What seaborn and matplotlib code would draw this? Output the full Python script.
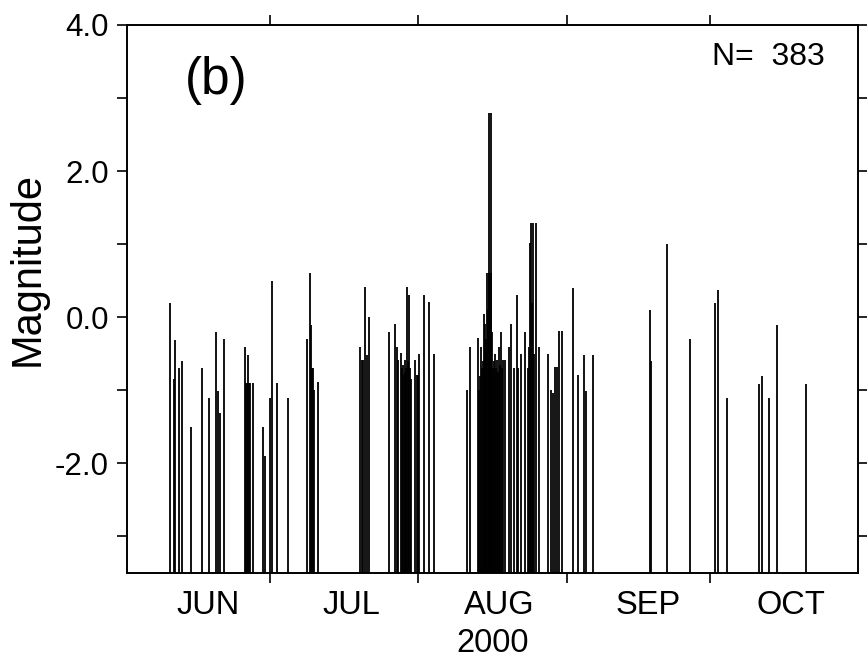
import numpy as np
import pandas as pd
import matplotlib
matplotlib.use("Agg")
import matplotlib.pyplot as plt
import matplotlib.dates as mdates
from matplotlib.ticker import FixedLocator, NullFormatter, FixedFormatter
import seaborn as sns

# ---- data: event time (days after 2000-06-01 00:00) and magnitude ----
days_jun = [9.00, 9.90, 10.05, 10.95, 11.51, 13.33, 15.76, 17.10, 18.63, 19.11,
            19.40, 20.36, 24.70, 24.91, 25.12, 25.32, 25.53, 25.74, 26.43, 28.40,
            28.95, 29.93, 30.35, 31.46, 33.63]
mags_jun = [0.20, -0.85, -0.31, -0.70, -0.60, -1.50, -0.70, -1.10, -0.20, -1.01,
            -1.31, -0.30, -0.41, -0.90, -0.90, -0.51, -0.90, -0.90, -0.90, -1.50,
            -1.90, -1.10, 0.50, -0.90, -1.10]

days_jul = [37.61, 38.30, 38.57, 38.78, 38.93, 39.20, 40.04, 48.77, 49.12, 49.39,
            49.75, 50.17, 50.71, 54.83, 56.03, 56.45, 56.78, 57.28, 57.56, 57.70,
            57.87, 58.12, 58.29, 58.46, 58.67, 58.82, 59.08, 59.29, 59.50, 60.28,
            60.63, 60.84, 61.11, 62.22, 63.21, 64.25]
mags_jul = [-0.30, 0.60, -0.10, -0.69, -0.69, -1.00, -0.89, -0.40, -0.59, -0.59,
            0.41, -0.51, 0.00, -0.20, -0.09, -0.40, -0.59, -0.49, -0.70, -0.79,
            -0.65, -0.59, -0.75, -0.70, 0.41, -0.60, 0.30, -0.70, -0.85, -0.59,
            -0.79, -0.79, -0.50, 0.31, 0.21, -0.50]

days_aug = [71.10, 71.89, 73.46, 73.73, 73.94, 74.15, 74.36, 74.55, 74.72, 74.89,
            75.03, 75.20, 75.41, 75.56, 75.71, 75.86, 76.00, 76.13, 76.25, 76.42,
            76.57, 76.71, 76.88, 77.09, 77.27, 77.50, 77.69, 77.92, 78.10, 78.34,
            78.55, 78.76, 79.11, 79.89, 80.31, 81.05, 81.60, 81.89, 82.44, 83.27,
            83.84, 84.05, 84.25, 84.46, 84.67, 85.03, 85.24, 85.65, 86.29, 88.18,
            88.74, 89.10, 89.64, 90.06, 90.48, 91.11]
mags_aug = [-0.99, -0.40, -0.29, -1.00, -0.80, -0.40, -0.70, -0.60, 0.05, -0.50,
            -0.09, -0.30, 0.60, 0.10, 2.79, 0.60, 0.55, 0.60, 2.79, -0.20,
            -0.69, -0.80, -0.60, -0.50, -0.70, -0.59, -0.75, -0.40, -0.65, -0.20,
            -0.70, -0.59, -0.59, -0.40, -0.09, -0.69, 0.30, -0.69, -0.50, -0.20,
            -0.69, -0.40, 1.01, 1.29, 0.20, 1.29, -0.50, 1.29, -0.41, -0.50,
            -1.00, -1.04, -0.68, -0.68, -0.19, -0.19]

days_sep_oct = [93.28, 94.46, 95.65, 96.07, 97.59, 109.46, 109.73, 112.96, 117.90,
                123.13, 123.63, 125.58, 132.21, 132.90, 134.37, 136.10, 142.05]
mags_sep_oct = [0.40, -0.79, -0.51, -1.01, -0.51, 0.10, -0.60, 1.00, -0.30,
                0.20, 0.38, -1.11, -0.91, -0.81, -1.11, -0.10, -0.91]

month_starts = ["2000-06-01", "2000-07-01", "2000-08-01", "2000-09-01", "2000-10-01", "2000-11-01"]
month_label_dates = ["2000-06-18", "2000-07-18", "2000-08-18", "2000-09-18", "2000-10-18"]
month_labels = ["JUN", "JUL", "AUG", "SEP", "OCT"]
y_major = [-2.0, 0.0, 2.0, 4.0]
y_minor = [-3.0, -1.0, 1.0, 3.0]
n_label = "N=  383"
panel_label = "(b)"
year_label = "2000"

# ---- build table ----
origin = pd.Timestamp("2000-06-01")
df = pd.DataFrame({
    "day": days_jun + days_jul + days_aug + days_sep_oct,
    "mag": mags_jun + mags_jul + mags_aug + mags_sep_oct,
})
df["time"] = origin + pd.to_timedelta(df["day"], unit="D")

sns.set_theme(style="ticks")
plt.rcParams["font.family"] = ["Liberation Sans", "DejaVu Sans"]

fig = plt.figure(figsize=(8.67, 6.63), dpi=100)
ax = fig.add_axes([0.1465, 0.1357, 0.8431, 0.8266])

ymin, ymax = -3.5, 4.0
ax.vlines(mdates.date2num(df["time"]), ymin, df["mag"], colors="black", linewidth=1.3)

ms = pd.to_datetime(month_starts)
ax.set_xlim(mdates.date2num(ms[0]), mdates.date2num(ms[-1]))
ax.set_ylim(ymin, ymax)

# x ticks: month boundaries (major, no labels) and mid-month labels (minor)
ax.xaxis.set_major_locator(FixedLocator(mdates.date2num(ms[1:-1])))
ax.xaxis.set_major_formatter(NullFormatter())
ax.xaxis.set_minor_locator(FixedLocator(mdates.date2num(pd.to_datetime(month_label_dates))))
ax.xaxis.set_minor_formatter(FixedFormatter(month_labels))
ax.tick_params(axis="x", which="major", direction="out", length=7, width=1.2,
               top=True, bottom=True, colors="black")
ax.tick_params(axis="x", which="minor", length=0, labelsize=23.5, pad=12, labelcolor="black")

# y ticks
ax.yaxis.set_major_locator(FixedLocator(y_major))
ax.yaxis.set_major_formatter(FixedFormatter([f"{v:.1f}" for v in y_major]))
ax.yaxis.set_minor_locator(FixedLocator(y_minor))
ax.tick_params(axis="y", which="both", direction="out", length=7, width=1.2,
               left=True, right=True, colors="black")
ax.tick_params(axis="y", which="major", labelsize=22.5, pad=6)

for s in ax.spines.values():
    s.set_visible(True)
    s.set_linewidth(1.4)
    s.set_color("black")

ax.set_ylabel("Magnitude", fontsize=30, color="black")
ax.yaxis.set_label_coords(-0.108, 0.555)
ax.set_xlabel(year_label, fontsize=23.5, color="black")
ax.xaxis.set_label_coords(0.5, -0.1)

ax.text(0.079, 0.898, panel_label, transform=ax.transAxes, fontsize=37,
        ha="left", va="center", color="black")
ax.text(0.955, 0.927, n_label, transform=ax.transAxes, fontsize=23,
        ha="right", va="baseline", color="black")

ax.set_facecolor("white")
fig.patch.set_facecolor("white")
fig.savefig("out.png", dpi=100)
